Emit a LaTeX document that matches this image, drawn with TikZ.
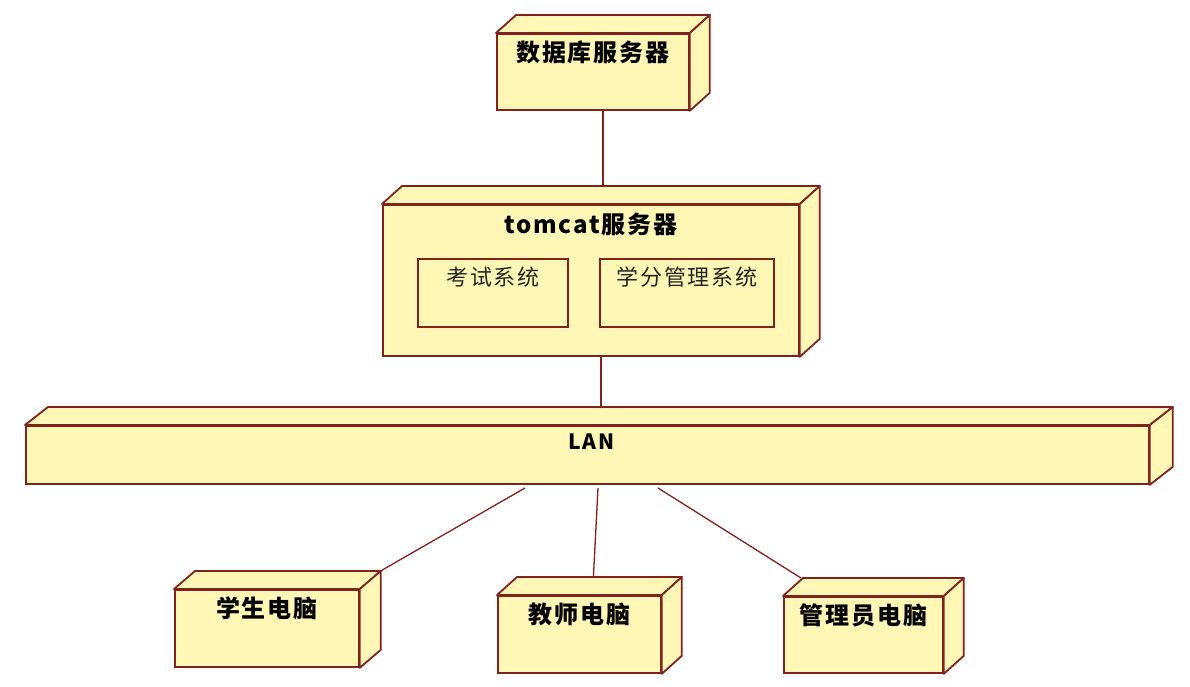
\documentclass[tikz,border=0pt]{standalone}
\usepackage{fontspec}
\usetikzlibrary{calc}
\newfontfamily\cjk[LetterSpace=8]{Noto Sans CJK SC}
\definecolor{nodefill}{RGB}{255,247,182}
\definecolor{nodeline}{RGB}{128,34,30}
\tikzset{
  udnode/.style={draw=nodeline, fill=nodefill, line width=1.8pt, rectangle, anchor=north west, inner sep=0pt},
  udface/.style={draw=nodeline, fill=nodefill, line width=1.8pt, line join=round},
  udtitle/.style={font=\cjk\bfseries\fontsize{24}{24}\selectfont, text=black, inner sep=0pt},
  udcomp/.style={draw=nodeline, fill=nodefill, line width=1.8pt, rectangle, anchor=north west, inner sep=0pt},
  udcomptext/.style={font=\cjk\fontsize{22}{22}\selectfont, text=black!85, inner sep=0pt},
  link/.style={draw=nodeline, line width=1.3pt}
}
% box drawn as a front face with a top face and a right face behind it
\newcommand\nodedepth[3]{% node name, dx, dy
  \draw[udface] (#1.north west) -- ++(#2,-#3) -- ($(#1.north east)+(#2,-#3)$) -- (#1.north east) -- cycle;
  \draw[udface] (#1.north east) -- ($(#1.north east)+(#2,-#3)$) -- ($(#1.south east)+(#2,-#3)$) -- (#1.south east) -- cycle;
}
\begin{document}
\begin{tikzpicture}[x=1pt,y=-1pt]
\useasboundingbox[fill=white] (0,0) rectangle (1190,686);

% database server
\node[udnode, minimum width=192pt, minimum height=76pt] (db) at (496,33) {};
\nodedepth{db}{20}{18}
\node[udtitle] (dbt) at ($(db.north)+(0,19)$) {数据库服务器};

% application server with its two components
\node[udnode, minimum width=416pt, minimum height=151pt] (tomcat) at (382,204) {};
\nodedepth{tomcat}{20}{18}
\node[udtitle] (tomcatt) at ($(tomcat.north)+(0,20)$) {tomcat服务器};
\node[udcomp, minimum width=150pt, minimum height=68pt] (exam) at (417,258) {};
\node[udcomptext] (examt) at ($(exam.north)+(0,19)$) {考试系统};
\node[udcomp, minimum width=174pt, minimum height=68pt] (credit) at (599,258) {};
\node[udcomptext] (creditt) at ($(credit.north)+(0,19)$) {学分管理系统};

% network
\node[udnode, minimum width=1123pt, minimum height=58pt] (lan) at (25,425) {};
\nodedepth{lan}{23}{18}
\node[udtitle, font=\cjk\bfseries\fontsize{21}{21}\selectfont] (lant) at ($(lan.north)+(4,17)$) {LAN};

% client machines
\node[udnode, minimum width=184pt, minimum height=77pt] (stu) at (174,589) {};
\nodedepth{stu}{21}{18}
\node[udtitle] (stut) at ($(stu.north)+(0,19)$) {学生电脑};

\node[udnode, minimum width=163pt, minimum height=77pt] (tea) at (497,595) {};
\nodedepth{tea}{20}{18}
\node[udtitle] (teat) at ($(tea.north)+(0,19)$) {教师电脑};

\node[udnode, minimum width=159pt, minimum height=76pt] (adm) at (783,596) {};
\nodedepth{adm}{20}{18}
\node[udtitle] (admt) at ($(adm.north)+(0,19)$) {管理员电脑};

% connection points
\coordinate (db-b) at ($(db.south)+(10,0)$);
\coordinate (tomcat-t) at ($(tomcat.north)+(10,-18)$);
\coordinate (tomcat-b) at ($(tomcat.south)+(10,0)$);
\coordinate (lan-t) at ($(lan.north)+(13,-18)$);
\coordinate (lan-b1) at (525,488);
\coordinate (lan-b2) at (598,488);
\coordinate (lan-b3) at (658,488);
\coordinate (stu-t) at ($(stu.north east)+(19,-17)$);
\coordinate (tea-t) at ($(tea.north)+(14,-18)$);
\coordinate (adm-t) at ($(adm.north west)+(18,-18)$);

\draw[link] (db-b) -- (db-b |- tomcat-t);
\draw[link] (tomcat-b) -- (tomcat-b |- lan-t);
\draw[link] (lan-b1) -- (stu-t);
\draw[link] (lan-b2) -- (tea-t);
\draw[link] (lan-b3) -- (adm-t);
\end{tikzpicture}
\end{document}
